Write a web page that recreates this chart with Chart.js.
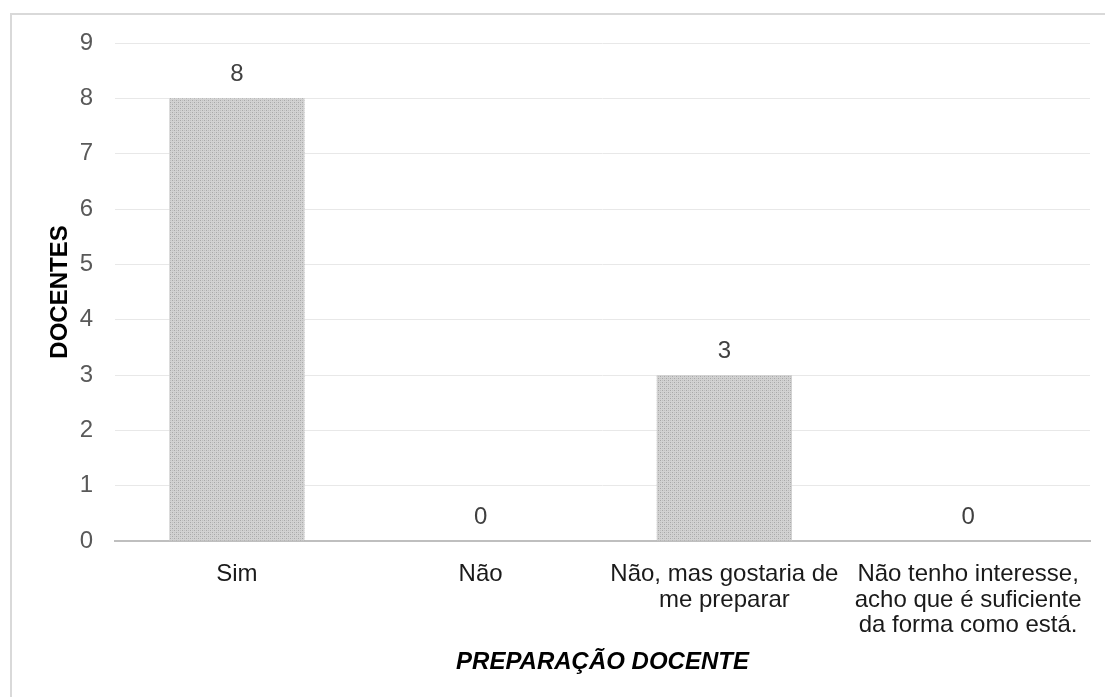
<!DOCTYPE html>
<html>
<head>
<meta charset="utf-8">
<style>
  html, body { margin: 0; padding: 0; background: #fff; overflow: hidden; }
  #wrap { width: 1105px; height: 697px; }
</style>
<script src="https://cdn.jsdelivr.net/npm/chart.js@4.4.1/dist/chart.umd.min.js"></script>
</head>
<body>
<div id="wrap"><canvas id="myChart" width="1105" height="697"></canvas></div>
<script>
const categories = [
    'Sim',
    'Não',
    ['Não, mas gostaria de', 'me preparar'],
    ['Não tenho interesse,', 'acho que é suficiente', 'da forma como está.']
];
const docentes = [8, 0, 3, 0];
const yTicks = [0, 1, 2, 3, 4, 5, 6, 7, 8, 9];

(() => {
    const ctx = document.getElementById('myChart').getContext('2d');
    const FONT = '"Liberation Sans", Arial, sans-serif';

    // dotted grey fill like the original bars
    const pc = document.createElement('canvas');
    pc.width = 4; pc.height = 4;
    const p = pc.getContext('2d');
    p.fillStyle = '#d2d2d2';
    p.fillRect(0, 0, 4, 4);
    p.fillStyle = '#a8a8a8';
    p.fillRect(0, 0, 1, 1);
    p.fillRect(2, 2, 1, 1);
    p.fillStyle = '#bfbfbf';
    p.fillRect(2, 0, 1, 1);
    p.fillRect(0, 2, 1, 1);
    const barFill = ctx.createPattern(pc, 'repeat');

    const frame = {
        id: 'frame',
        beforeDraw(chart) {
            const c = chart.ctx;
            c.save();
            c.strokeStyle = '#d9d9d9';
            c.lineWidth = 2;
            c.strokeRect(11, 14, 1200, 800);
            c.restore();
        }
    };

    const valueLabels = {
        id: 'valueLabels',
        afterDatasetsDraw(chart) {
            const c = chart.ctx;
            const meta = chart.getDatasetMeta(0);
            c.save();
            c.fillStyle = '#404040';
            c.font = '24px ' + FONT;
            c.textAlign = 'center';
            c.textBaseline = 'middle';
            meta.data.forEach((bar, i) => {
                c.fillText(String(docentes[i]), bar.x, bar.y - 24);
            });
            c.restore();
        }
    };

    new Chart(ctx, {
        type: 'bar',
        data: {
            labels: categories,
            datasets: [{
                label: 'Docentes',
                data: docentes,
                backgroundColor: barFill,
                borderWidth: 0,
                categoryPercentage: 1,
                barPercentage: 0.555
            }]
        },
        options: {
            responsive: false,
            animation: false,
            layout: { padding: { left: 30, right: 15, top: 43, bottom: 20 } },
            plugins: {
                legend: { display: false },
                tooltip: { enabled: false }
            },
            scales: {
                x: {
                    afterFit(scale) { scale.height = 136; },
                    grid: { display: false, drawTicks: false },
                    border: { display: true, color: '#bfbfbf', width: 2 },
                    ticks: {
                        color: '#1a1a1a',
                        font: { family: FONT, size: 24, lineHeight: 1.08 },
                        padding: 20,
                        maxRotation: 0,
                        autoSkip: false
                    },
                    title: {
                        display: true,
                        text: 'PREPARAÇÃO DOCENTE',
                        color: '#000',
                        font: { family: FONT, size: 24, weight: 'bold', style: 'italic' },
                        padding: { top: 0, bottom: 0 }
                    }
                },
                y: {
                    min: 0,
                    max: 9,
                    afterFit(scale) { scale.width = 85; },
                    afterBuildTicks(scale) { scale.ticks = yTicks.map(v => ({ value: v })); },
                    grid: { color: '#e8e8e8', lineWidth: 1, drawTicks: false },
                    border: { display: false },
                    ticks: {
                        color: '#595959',
                        font: { family: FONT, size: 24 },
                        padding: 22
                    },
                    title: {
                        display: true,
                        text: 'DOCENTES',
                        color: '#000',
                        font: { family: FONT, size: 24, weight: 'bold' },
                        padding: { top: 16, bottom: 0 }
                    }
                }
            }
        },
        plugins: [frame, valueLabels]
    });
})()
</script>
</body>
</html>
